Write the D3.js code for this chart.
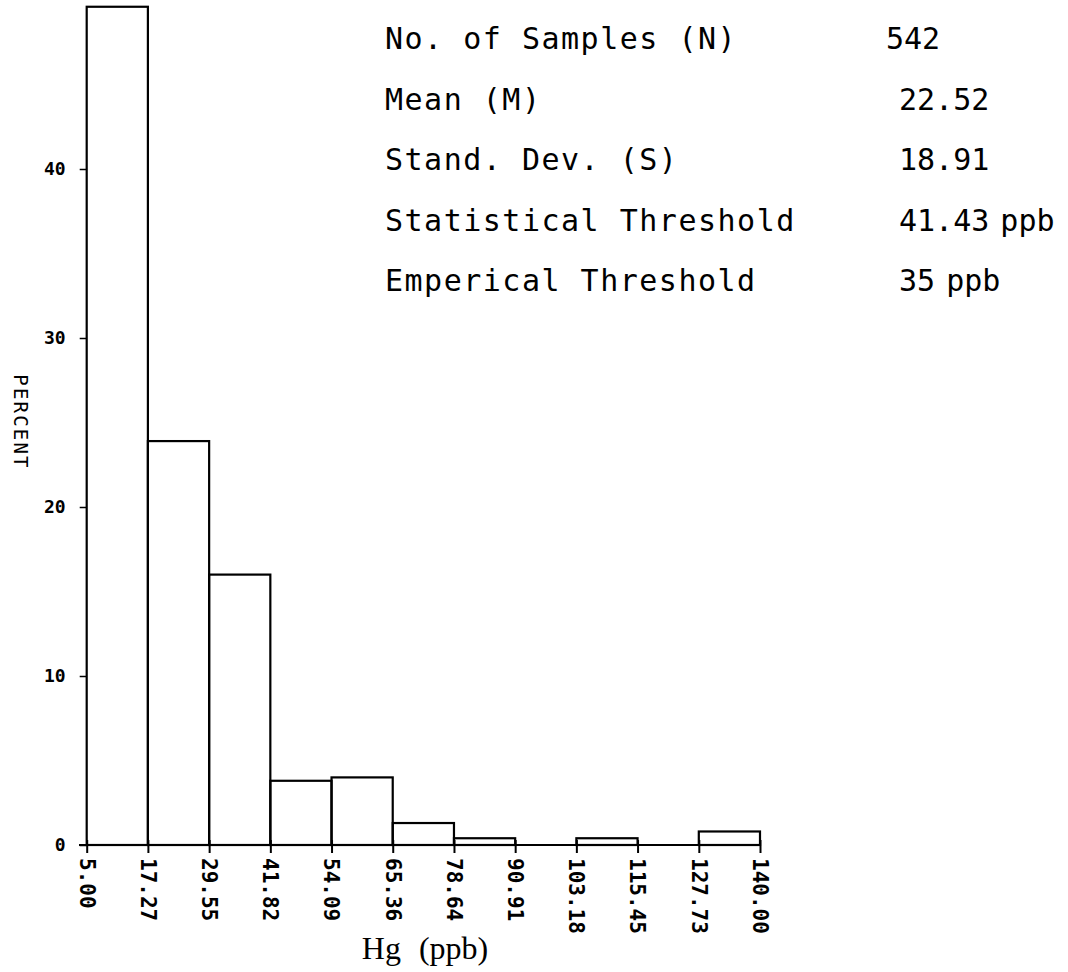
<!DOCTYPE html>
<html>
<head>
<meta charset="utf-8">
<script src="https://cdn.jsdelivr.net/npm/d3@7"></script>
<style>
  html, body { margin: 0; padding: 0; background: #fff; }
  svg { display: block; }
</style>
</head>
<body>
<svg id="chart" width="1068" height="972"></svg>
<script>
// ---- data ----
const binEdges = [5.00, 17.27, 29.55, 41.82, 54.09, 66.36, 78.64, 90.91, 103.18, 115.45, 127.73, 140.00];
const tickLabels = ["5.00", "17.27", "29.55", "41.82", "54.09", "65.36", "78.64", "90.91", "103.18", "115.45", "127.73", "140.00"];
const percents = [49.6, 23.9, 16.0, 3.8, 4.0, 1.3, 0.4, 0, 0.4, 0, 0.8];
const yTicks = [0, 10, 20, 30, 40];
const statLabels = ["No. of Samples (N)", "Mean (M)", "Stand. Dev. (S)", "Statistical Threshold", "Emperical Threshold"];
const statValues = ["542", "22.52", "18.91", "41.43 ppb", "35 ppb"];

// ---- layout ----
const svg = d3.select("#chart");
const x = d3.scaleLinear().domain([5, 140]).range([86.7, 760]);
const y = d3.scaleLinear().domain([0, 50]).range([845, 0]);

const bins = percents.map((p, i) => ({ x0: binEdges[i], x1: binEdges[i + 1], p }));

// bars
svg.append("g").selectAll("rect")
  .data(bins.filter(d => d.p > 0))
  .join("rect")
  .attr("x", d => x(d.x0))
  .attr("y", d => y(d.p))
  .attr("width", d => x(d.x1) - x(d.x0))
  .attr("height", d => y(0) - y(d.p))
  .attr("fill", "none")
  .attr("stroke", "#000")
  .attr("stroke-width", 2.2);

// x axis
const xAxis = d3.axisBottom(x)
  .tickValues(binEdges)
  .tickFormat((d, i) => tickLabels[i])
  .tickSize(8)
  .tickSizeOuter(0);
const gx = svg.append("g").attr("transform", `translate(0,${y(0)})`).call(xAxis);
gx.select(".domain").remove();
gx.append("line").attr("x1", 79).attr("x2", x(140)).attr("y1", 0).attr("y2", 0)
  .attr("stroke", "#000").attr("stroke-width", 2.2);
gx.selectAll(".tick line").attr("y1", -5).attr("stroke-width", 2);
gx.selectAll(".tick text")
  .attr("transform", "rotate(90)")
  .attr("x", 13)
  .attr("y", 0)
  .attr("dy", "0.36em")
  .attr("text-anchor", "start")
  .attr("font-family", "DejaVu Sans Mono")
  .attr("font-weight", "bold")
  .attr("font-size", 21)
  .attr("fill", "#000");

// y axis
const yAxis = d3.axisLeft(y).tickValues(yTicks).tickSize(7).tickPadding(14).tickSizeOuter(0);
const gy = svg.append("g").attr("transform", `translate(${x(5)},0)`).call(yAxis);
gy.select(".domain").remove();
gy.selectAll(".tick line").attr("stroke-width", 1.5);
gy.selectAll(".tick text")
  .attr("font-family", "DejaVu Sans Mono")
  .attr("font-weight", "bold")
  .attr("font-size", 18)
  .attr("fill", "#000");

// y label
svg.append("text")
  .attr("transform", "translate(21,422) rotate(90)")
  .attr("text-anchor", "middle")
  .attr("dy", "0.36em")
  .attr("font-family", "DejaVu Sans Mono")
  .attr("font-size", 19)
  .attr("letter-spacing", 2.2)
  .text("PERCENT");

// x label
svg.append("text")
  .attr("x", 425)
  .attr("y", 959)
  .attr("text-anchor", "middle")
  .attr("font-family", "Liberation Serif")
  .attr("font-size", 32)
  .attr("word-spacing", 10)
  .text("Hg (ppb)");

// stats block
const rowY = i => 49 + i * 60.5;
const stats = svg.append("g");
stats.selectAll("text.lab")
  .data(statLabels)
  .join("text")
  .attr("class", "lab")
  .attr("x", 385)
  .attr("y", (d, i) => rowY(i))
  .attr("font-family", "DejaVu Sans Mono")
  .attr("font-size", 30)
  .attr("letter-spacing", 1.5)
  .text(d => d);
stats.selectAll("text.val")
  .data(statValues)
  .join("text")
  .attr("class", "val")
  .attr("x", (d, i) => i === 0 ? 886 : 899)
  .attr("y", (d, i) => rowY(i))
  .attr("font-family", "DejaVu Sans Mono")
  .attr("font-size", 30)
  .attr("word-spacing", -7)
  .text(d => d);
</script>
</body>
</html>
